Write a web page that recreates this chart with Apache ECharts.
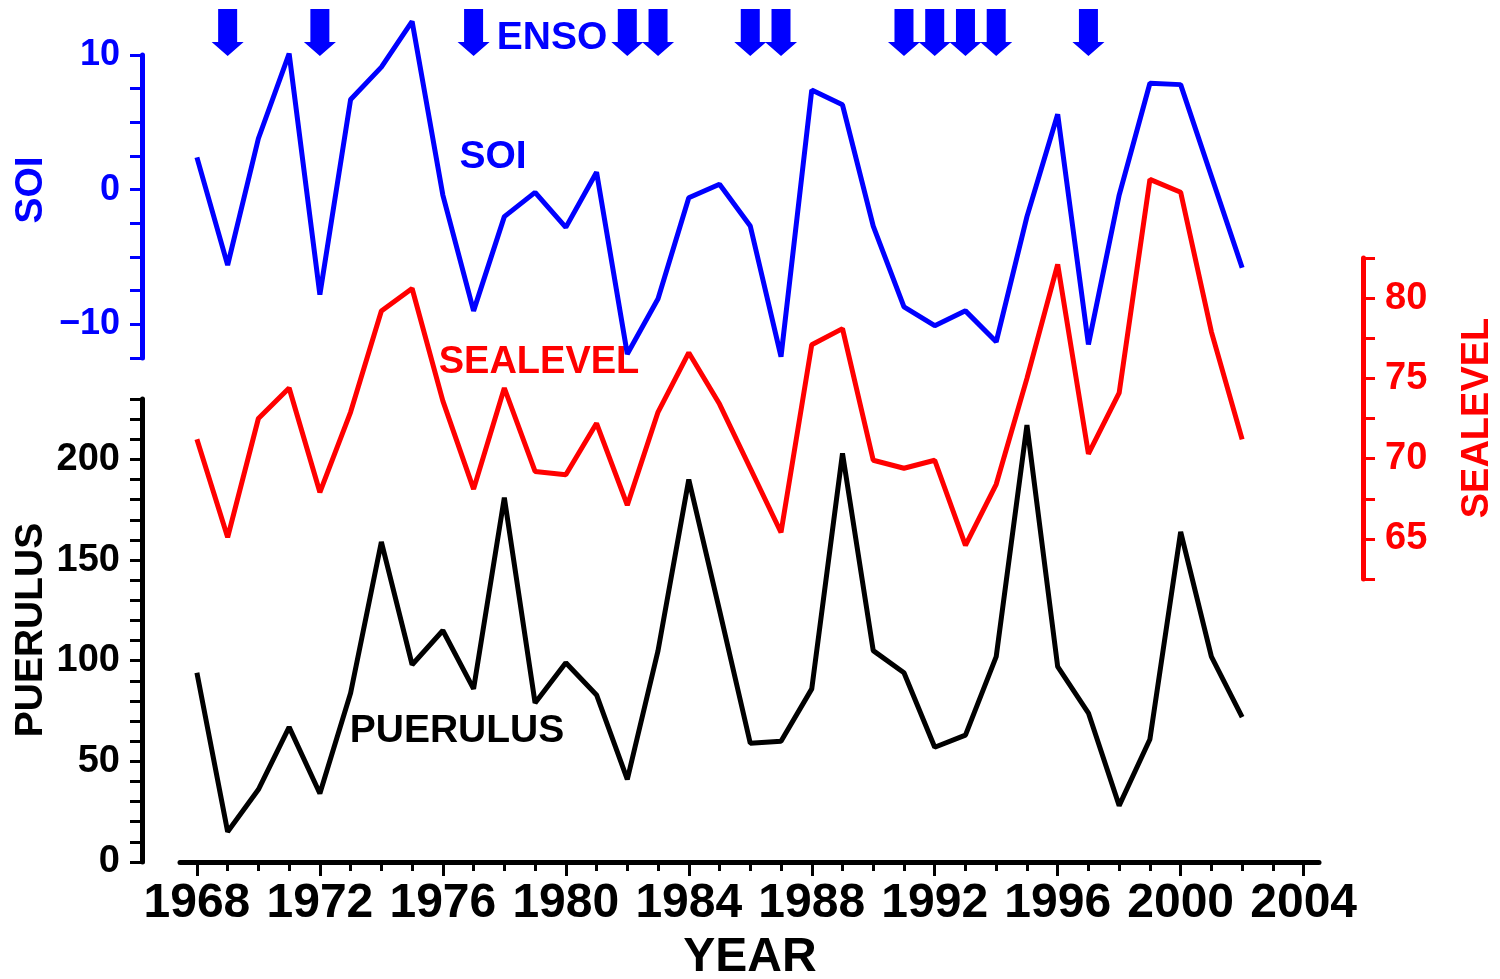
<!DOCTYPE html>
<html lang="en">
<head>
    <meta charset="utf-8">
    <title>SOI, sea level and puerulus</title>
    <script src="https://cdn.jsdelivr.net/npm/echarts@6/dist/echarts.min.js"></script>
    <style>
        html, body { margin: 0; padding: 0; background: #fff; }
        #main { width: 1500px; height: 979px; }
    </style>
</head>
<body>
    <div id="main"></div>
    <script type="text/javascript">
        // data
        var years = [1968, 1969, 1970, 1971, 1972, 1973, 1974, 1975, 1976, 1977, 1978, 1979,
                     1980, 1981, 1982, 1983, 1984, 1985, 1986, 1987, 1988, 1989, 1990, 1991,
                     1992, 1993, 1994, 1995, 1996, 1997, 1998, 1999, 2000, 2001, 2002];
        var soi = [2.4, -5.6, 3.8, 10.1, -7.8, 6.7, 9.1, 12.5, -0.4, -9.0, -2.0, -0.2,
                   -2.8, 1.3, -12.2, -8.1, -0.6, 0.4, -2.7, -12.4, 7.4, 6.3, -2.7, -8.7,
                   -10.1, -9.0, -11.3, -2.0, 5.6, -11.5, -0.4, 7.9, 7.8, 1.0, -5.8];
        var sealevel = [71.2, 65.1, 72.5, 74.4, 67.9, 72.9, 79.2, 80.6, 73.6, 68.1, 74.4, 69.2,
                        69.0, 72.2, 67.1, 72.9, 76.6, 73.4, 69.4, 65.4, 77.1, 78.1, 69.9, 69.4,
                        69.9, 64.6, 68.4, 75.0, 82.1, 70.3, 74.1, 87.4, 86.6, 77.9, 71.2];
        var puerulus = [94, 15, 36, 67, 34, 84, 159, 98, 115, 86, 181, 79,
                        99, 83, 41, 105, 190, 125, 59, 60, 86, 203, 105, 94,
                        57, 63, 102, 217, 97, 74, 28, 61, 164, 102, 72];
        var ensoYears = [1969, 1972, 1977, 1982, 1983, 1986, 1987, 1991, 1992, 1993, 1994, 1997];
        var majorYears = [1968, 1972, 1976, 1980, 1984, 1988, 1992, 1996, 2000, 2004];
        var minorYears = years.concat([2003, 2004]);

        var BLUE = '#0000ff';
        var RED = '#ff0000';
        var BLACK = '#000000';
        var FONT = '"Liberation Sans", Arial, sans-serif';

        var X_MIN = 1967.45, X_MAX = 2004.5;
        var GL = 180, GW = 1139;

        function pairs(vals) {
            return years.map(function (y, i) { return [y, vals[i]]; });
        }

        function hiddenX(gridIndex) {
            return { type: 'value', gridIndex: gridIndex, min: X_MIN, max: X_MAX, show: false };
        }

        function valueAxis(gridIndex, color, min, max, step, labelStep, position, offset, fontSize) {
            return {
                type: 'value',
                gridIndex: gridIndex,
                position: position,
                offset: offset,
                min: min,
                max: max,
                interval: step,
                splitLine: { show: false },
                axisLine: { show: true, lineStyle: { color: color, width: 5 } },
                axisTick: { show: true, length: 12, lineStyle: { color: color, width: 3 } },
                axisLabel: {
                    show: true,
                    margin: 22,
                    color: color,
                    fontFamily: FONT,
                    fontWeight: 'bold',
                    fontSize: fontSize,
                    showMinLabel: true,
                    showMaxLabel: true,
                    formatter: function (v) {
                        if (Math.abs(v % labelStep) > 1e-6) return '';
                        return v < 0 ? '\u2212' + Math.abs(v) : String(v);
                    }
                }
            };
        }

        function label(text, x, y, color, size, rot) {
            return {
                type: 'text',
                x: x,
                y: y,
                rotation: rot || 0,
                style: {
                    text: text,
                    fill: color,
                    font: 'bold ' + size + 'px ' + FONT,
                    textAlign: 'center',
                    textVerticalAlign: 'middle'
                }
            };
        }

        var myChart = echarts.init(document.getElementById('main'), null, { renderer: 'canvas' });

        myChart.setOption({
            animation: false,
            backgroundColor: '#ffffff',
            grid: [
                { left: GL, width: GW, top: 9, height: 47, outerBoundsMode: 'none' },    // ENSO arrows
                { left: GL, width: GW, top: 55, height: 303, outerBoundsMode: 'none' },  // SOI
                { left: GL, width: GW, top: 258, height: 321, outerBoundsMode: 'none' }, // SEALEVEL
                { left: GL, width: GW, top: 399, height: 463, outerBoundsMode: 'none' }  // PUERULUS
            ],
            xAxis: [
                hiddenX(0),
                hiddenX(1),
                hiddenX(2),
                {
                    // yearly ticks, labels every 4 years
                    type: 'value',
                    gridIndex: 3,
                    position: 'bottom',
                    min: X_MIN,
                    max: X_MAX,
                    splitLine: { show: false },
                    axisLine: { show: true, onZero: false, lineStyle: { color: BLACK, width: 5 } },
                    axisTick: { show: true, length: 9, customValues: minorYears,
                                lineStyle: { color: BLACK, width: 3 } },
                    axisLabel: {
                        show: true,
                        customValues: majorYears,
                        margin: 18,
                        color: BLACK,
                        fontFamily: FONT,
                        fontWeight: 'bold',
                        fontSize: 48,
                        formatter: function (v) { return String(v); }
                    }
                },
                {
                    // longer ticks at the labelled years
                    type: 'value',
                    gridIndex: 3,
                    position: 'bottom',
                    min: X_MIN,
                    max: X_MAX,
                    splitLine: { show: false },
                    axisLine: { show: false, onZero: false },
                    axisTick: { show: true, length: 14, customValues: majorYears,
                                lineStyle: { color: BLACK, width: 3 } },
                    axisLabel: { show: false }
                }
            ],
            yAxis: [
                { type: 'value', gridIndex: 0, min: 0, max: 1, show: false },
                valueAxis(1, BLUE, -12.5, 10, 2.5, 10, 'left', 38, 36),
                valueAxis(2, RED, 62.5, 82.5, 2.5, 5, 'right', 44, 38),
                valueAxis(3, BLACK, 0, 230, 10, 50, 'left', 38, 38)
            ],
            series: [
                {
                    name: 'ENSO',
                    type: 'scatter',
                    xAxisIndex: 0,
                    yAxisIndex: 0,
                    symbol: 'path://M6.5,0 L25.5,0 L25.5,33 L32,33 L16,47 L0,33 L6.5,33 Z',
                    symbolSize: [32, 47],
                    itemStyle: { color: BLUE, opacity: 1 },
                    clip: false,
                    data: ensoYears.map(function (y) { return [y, 0.5]; })
                },
                {
                    name: 'SOI',
                    type: 'line',
                    xAxisIndex: 1,
                    yAxisIndex: 1,
                    showSymbol: false,
                    clip: false,
                    lineStyle: { color: BLUE, width: 5 },
                    data: pairs(soi)
                },
                {
                    name: 'SEALEVEL',
                    type: 'line',
                    xAxisIndex: 2,
                    yAxisIndex: 2,
                    showSymbol: false,
                    clip: false,
                    lineStyle: { color: RED, width: 5 },
                    data: pairs(sealevel)
                },
                {
                    name: 'PUERULUS',
                    type: 'line',
                    xAxisIndex: 3,
                    yAxisIndex: 3,
                    showSymbol: false,
                    clip: false,
                    lineStyle: { color: BLACK, width: 5 },
                    data: pairs(puerulus)
                }
            ],
            graphic: [
                label('ENSO', 552, 38, BLUE, 39),
                label('SOI', 493, 157, BLUE, 39),
                label('SEALEVEL', 539, 363, RED, 38),
                label('PUERULUS', 457, 731, BLACK, 39),
                label('SOI', 31, 190, BLUE, 39, Math.PI / 2),
                label('PUERULUS', 31, 630, BLACK, 39, Math.PI / 2),
                label('SEALEVEL', 1478, 418, RED, 38, Math.PI / 2),
                label('YEAR', 750, 958, BLACK, 48)
            ]
        });
    </script>
</body>
</html>
